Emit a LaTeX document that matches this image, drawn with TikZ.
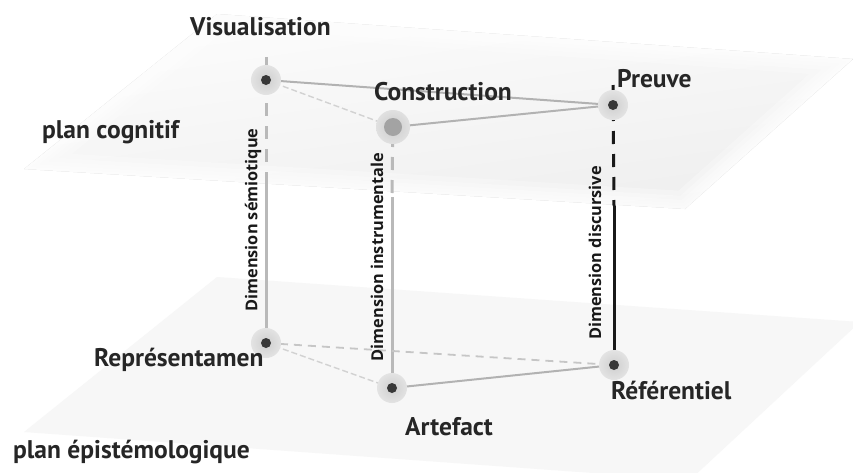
\documentclass[tikz,border=0pt]{standalone}
\usepackage{fontspec}
\newfontfamily\lblfont{PT Sans}
\newfontfamily\dimfont{Open Sans}
\begin{document}
\begin{tikzpicture}[x=1pt,y=-1pt,
  lbl/.style={font=\lblfont\bfseries\fontsize{25.5}{28}\selectfont, inner sep=0pt, anchor=base west, text=black!85},
  dimlbl/.style={font=\dimfont\bfseries\fontsize{16.3}{19}\selectfont, inner sep=0pt, rotate=90, text=black!90},
  halo/.style={circle, inner sep=0pt, minimum size=30pt, shading=radial, inner color=gray!38, outer color=gray!22},
  dot/.style={circle, inner sep=0pt, minimum size=10pt, fill=black!78},
  edgesolid/.style={draw=gray!60, line width=2pt},
  edgedash/.style={draw=gray!45, line width=1.8pt, dash pattern=on 8pt off 6pt},
  edgelight/.style={draw=gray!35, line width=1.4pt, dash pattern=on 6pt off 3pt},
  vgray/.style={draw=gray!55, line width=3pt},
  vdash/.style={line width=3pt, dash pattern=on 13pt off 10pt},
  soft/.style={draw=white, opacity=0.28, line join=round},
]
\useasboundingbox (0,0) rectangle (853,472);
\fill[white] (0,0) rectangle (853,472);

% lower plane
\fill[gray!6] (217,277) -- (860,322) -- (690,480) -- (24,432) -- cycle;

% upper plane (soft)
\fill[top color=gray!2, bottom color=gray!13, shading angle=8]
  (217,14) -- (853,59) -- (685,209) -- (24,169) -- cycle;
\foreach \w in {36,26,18,11,5}{
  \draw[soft, line width=\w pt]
    (217,14) -- (853,59) -- (685,209) -- (24,169) -- cycle;
}

% points
\coordinate (V) at (266,80);
\coordinate (C) at (393,127);
\coordinate (P) at (613,105);
\coordinate (R) at (266,343);
\coordinate (A) at (392,388);
\coordinate (F) at (614,365);
\coordinate (Vb) at (266,182);
\coordinate (Cb) at (392,197);
\coordinate (Pb) at (614,206);

% vertical connectors
\draw[vdash, draw=gray!55] ([yshift=23pt]V) -- (Vb);
\draw[vgray] (Vb) -- (R);
\draw[vdash, draw=gray!55] ([yshift=16pt]C) -- (Cb);
\draw[vgray] (Cb) -- (A);
\draw[vdash, draw=black!90] ([yshift=20pt]P) -- (Pb);
\draw[line width=3pt, draw=black!90] (Pb) -- (F);

% edges
\draw[edgedash] (R) -- (F);
\draw[edgelight] (R) -- (A);
\draw[edgesolid] (A) -- (F);
\draw[edgelight] (V) -- (C);
\draw[edgesolid] (V) -- (P);
\draw[edgesolid] (C) -- (P);

% nodes
\node[halo] (hV) at (V) {};
\node[dot] (dV) at (V) {};
\node[halo, minimum size=34pt, inner color=gray!40, outer color=gray!24] (hC) at (C) {};
\node[circle, inner sep=0pt, minimum size=18pt, fill=gray!72] (dC) at (C) {};
\node[halo] (hP) at (P) {};
\node[dot] (dP) at (P) {};
\node[halo] (hR) at (R) {};
\node[dot] (dR) at (R) {};
\node[halo] (hA) at (A) {};
\node[dot] (dA) at (A) {};
\node[halo] (hF) at (F) {};
\node[dot] (dF) at (F) {};

% labels
\node[lbl] (tV) at (190,35) {Visualisation};
\node[lbl] (tC) at (374,100) {Construction};
\node[lbl] (tP) at (617,87) {Preuve};
\node[lbl] (tcog) at (42,138) {plan cognitif};
\node[lbl] (tR) at (94,366) {Représentamen};
\node[lbl] (tA) at (405,435) {Artefact};
\node[lbl] (tF) at (611,399) {Référentiel};
\node[lbl] (tepi) at (13,458) {plan épistémologique};

\node[dimlbl] (d1) at (253,220) {Dimension sémiotique};
\node[dimlbl] (d2) at (377,257) {Dimension instrumentale};
\node[dimlbl] (d3) at (595,253) {Dimension discursive};
\end{tikzpicture}
\end{document}
